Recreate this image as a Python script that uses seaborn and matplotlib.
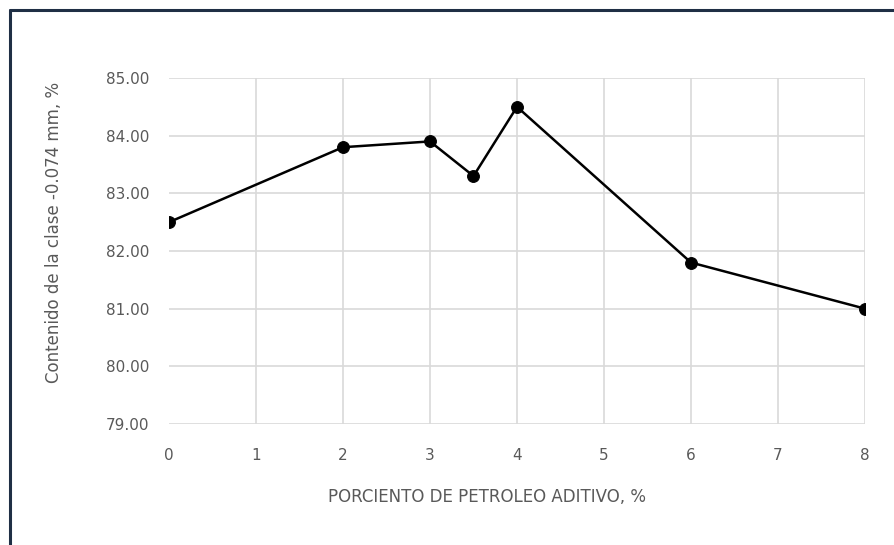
import seaborn as sns
import matplotlib.pyplot as plt
import matplotlib.lines as mlines
import pandas as pd

petroleo = [0, 2, 3, 3.5, 4, 6, 8]
contenido = [82.5, 83.8, 83.9, 83.3, 84.5, 81.8, 81.0]
x_ticks = [0, 1, 2, 3, 4, 5, 6, 7, 8]
y_ticks = [79, 80, 81, 82, 83, 84, 85]

df = pd.DataFrame({'x': petroleo, 'y': contenido})

sns.set_style('white')
plt.rcParams['font.family'] = ['DejaVu Sans']

fig = plt.figure(figsize=(8.95, 5.45), dpi=100)
ax = fig.add_axes([169 / 895, 1 - 424 / 545, 696 / 895, 346 / 545])

sns.lineplot(data=df, x='x', y='y', marker='o', color='black',
             linewidth=1.8, markersize=8.5, markeredgecolor='black', ax=ax)

ax.set_xlim(0, 8)
ax.set_ylim(79, 85)
ax.set_xticks(x_ticks)
ax.set_yticks(y_ticks)
ax.set_yticklabels([f'{v:.2f}' for v in y_ticks])
ax.grid(True, color='#d9d9d9', linewidth=1.2)
ax.xaxis.get_gridlines()[0].set_visible(False)
ax.set_axisbelow(True)
for s in ax.spines.values():
    s.set_visible(False)
ax.tick_params(axis='both', length=0, labelsize=11, colors='#595959')
ax.tick_params(axis='y', pad=14)
ax.tick_params(axis='x', pad=17)

ax.set_xlabel('PORCIENTO DE PETROLEO ADITIVO, %', fontsize=12, color='#595959')
ax.set_ylabel('Contenido de la clase -0.074 mm, %', fontsize=12, color='#595959')
ax.xaxis.set_label_coords(0.457, -0.186)
ax.yaxis.set_label_coords(-0.152, 0.555)

# chart frame (partly cropped in the original)
fig.add_artist(mlines.Line2D([10 / 895, 1], [1 - 10 / 545] * 2, color='#1f2f45', linewidth=2.2))
fig.add_artist(mlines.Line2D([10 / 895] * 2, [0, 1 - 10 / 545], color='#1f2f45', linewidth=2.2))

fig.savefig('out.png', dpi=100)
